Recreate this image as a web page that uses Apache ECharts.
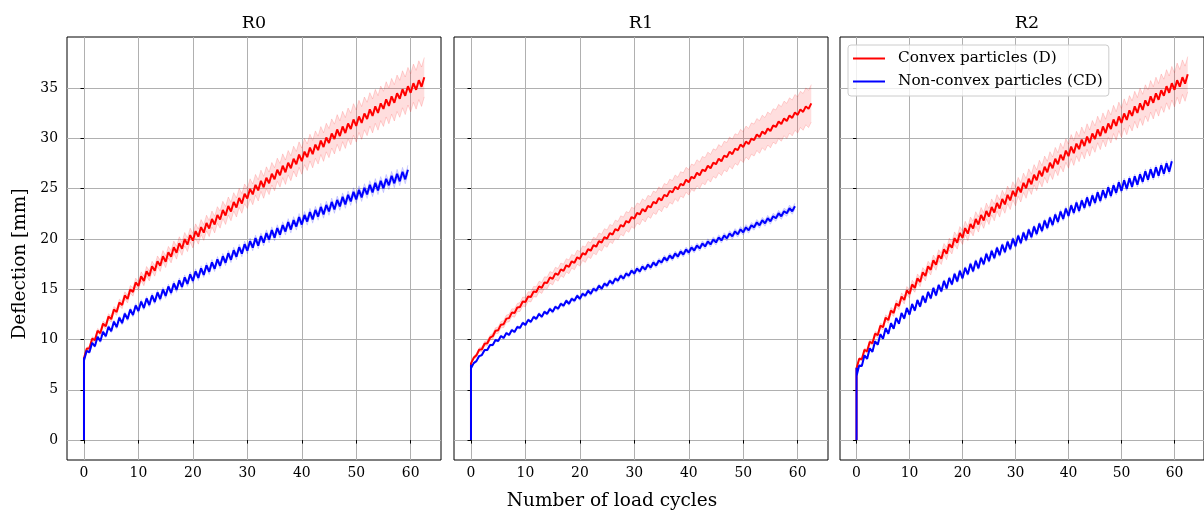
<!DOCTYPE html>
<html><head><meta charset="utf-8">
<script src="https://cdn.jsdelivr.net/npm/echarts@6/dist/echarts.min.js"></script>
<style>html,body{margin:0;padding:0;background:#fff}#c{width:1204px;height:510px}</style>
</head><body><div id="c"></div><script>
// ---------- data ----------
const panelTitles = ['R0', 'R1', 'R2'];
const seriesNames = ['Convex particles (D)', 'Non-convex particles (CD)'];
const xTicks = [0, 10, 20, 30, 40, 50, 60];
const yTicks = [0, 5, 10, 15, 20, 25, 30, 35];
const xLabel = 'Number of load cycles';
const yLabel = 'Deflection [mm]';

// mean deflection per load cycle (centre of the saw-tooth)
const r0ConvexMean = [8.6,9.6,10.4,11.1,11.8,12.5,13.2,13.9,14.5,15.2,
15.8,16.3,16.8,17.3,17.8,18.2,18.7,19.1,19.5,19.9,
20.3,20.7,21.1,21.5,21.9,22.4,22.8,23.2,23.6,24.0,
24.5,24.9,25.3,25.6,26.0,26.4,26.8,27.1,27.5,27.9,
28.2,28.6,28.9,29.3,29.6,30.0,30.4,30.7,31.0,31.4,
31.7,32.0,32.4,32.7,33.0,33.4,33.7,34.0,34.4,34.7,
35.0,35.3,35.6];
const r0NonconvexMean = [8.4,9.2,9.8,10.3,10.8,11.3,11.7,12.1,12.5,12.9,
13.3,13.6,13.9,14.2,14.5,14.8,15.1,15.4,15.7,16.0,
16.3,16.6,16.9,17.2,17.5,17.8,18.1,18.4,18.7,19.0,
19.3,19.6,19.8,20.1,20.4,20.6,20.9,21.2,21.4,21.7,
21.9,22.2,22.4,22.7,22.9,23.2,23.4,23.7,23.9,24.2,
24.4,24.6,24.9,25.1,25.3,25.5,25.8,26.0,26.2,26.4];
const r1ConvexMean = [7.9,8.7,9.3,9.9,10.6,11.2,11.8,12.4,12.9,13.5,
14.0,14.5,15.0,15.4,15.9,16.3,16.7,17.1,17.5,17.9,
18.3,18.7,19.1,19.5,19.9,20.3,20.7,21.1,21.5,21.9,
22.3,22.7,23.0,23.4,23.8,24.1,24.5,24.9,25.2,25.6,
25.9,26.3,26.6,27.0,27.3,27.7,28.0,28.4,28.7,29.1,
29.4,29.7,30.1,30.4,30.7,31.0,31.4,31.7,32.0,32.3,
32.6,32.9,33.2];
const r1NonconvexMean = [7.4,8.1,8.7,9.2,9.7,10.1,10.4,10.7,11.0,11.4,
11.7,12.0,12.3,12.5,12.8,13.0,13.3,13.6,13.8,14.1,
14.3,14.6,14.8,15.1,15.3,15.6,15.8,16.1,16.3,16.6,
16.8,17.0,17.2,17.4,17.6,17.9,18.1,18.3,18.5,18.7,
18.9,19.1,19.3,19.5,19.7,19.9,20.1,20.3,20.5,20.7,
20.9,21.1,21.4,21.6,21.8,22.0,22.3,22.5,22.8,23.0];
const r2ConvexMean = [7.6,8.5,9.3,10.1,10.9,11.7,12.4,13.1,13.8,14.4,
15.0,15.6,16.2,16.8,17.4,17.9,18.5,19.0,19.6,20.1,
20.6,21.0,21.5,21.9,22.3,22.7,23.1,23.5,23.9,24.3,
24.7,25.1,25.5,25.9,26.3,26.7,27.1,27.5,27.9,28.3,
28.7,29.0,29.4,29.7,30.0,30.4,30.7,31.0,31.4,31.7,
32.0,32.3,32.7,33.0,33.3,33.7,34.0,34.3,34.7,35.0,
35.3,35.6,35.9];
const r2NonconvexMean = [6.9,7.9,8.6,9.3,10.0,10.6,11.1,11.6,12.1,12.6,
13.0,13.4,13.8,14.2,14.6,14.9,15.3,15.6,16.0,16.3,
16.6,17.0,17.3,17.6,18.0,18.3,18.6,18.9,19.2,19.5,
19.8,20.1,20.4,20.7,21.0,21.3,21.6,21.9,22.2,22.5,
22.8,23.1,23.3,23.6,23.8,24.1,24.3,24.6,24.8,25.1,
25.3,25.5,25.7,25.9,26.2,26.4,26.6,26.8,27.0,27.2];

// standard deviation per load cycle (shaded band)
const r0ConvexSd = [0.15,0.2,0.22,0.25,0.28,0.3,0.33,0.36,0.39,0.42,
0.45,0.48,0.5,0.53,0.56,0.58,0.61,0.64,0.66,0.69,
0.72,0.75,0.78,0.8,0.83,0.86,0.89,0.92,0.95,0.98,
1.0,1.03,1.06,1.09,1.12,1.15,1.18,1.21,1.24,1.27,
1.3,1.33,1.36,1.39,1.42,1.45,1.48,1.51,1.54,1.57,
1.6,1.63,1.66,1.69,1.72,1.75,1.78,1.81,1.84,1.87,
1.9,1.93,1.96];
const r0NonconvexSd = [0.1,0.12,0.13,0.14,0.15,0.16,0.17,0.18,0.19,0.2,
0.2,0.21,0.22,0.22,0.23,0.24,0.24,0.25,0.25,0.26,
0.26,0.27,0.27,0.28,0.28,0.29,0.29,0.3,0.3,0.31,
0.31,0.32,0.32,0.33,0.33,0.34,0.34,0.35,0.35,0.36,
0.36,0.37,0.37,0.38,0.38,0.39,0.39,0.4,0.4,0.41,
0.41,0.42,0.42,0.43,0.43,0.44,0.44,0.45,0.45,0.46];
const r1ConvexSd = [0.15,0.2,0.23,0.26,0.29,0.32,0.35,0.38,0.41,0.44,
0.47,0.5,0.52,0.55,0.58,0.6,0.63,0.66,0.68,0.7,
0.73,0.76,0.78,0.81,0.84,0.86,0.89,0.92,0.94,0.97,
1.0,1.02,1.05,1.08,1.1,1.13,1.16,1.18,1.21,1.24,
1.27,1.3,1.32,1.35,1.38,1.4,1.43,1.46,1.48,1.51,
1.54,1.56,1.59,1.62,1.64,1.67,1.7,1.72,1.75,1.78,
1.8,1.83,1.86];
const r1NonconvexSd = [0.08,0.09,0.1,0.1,0.11,0.11,0.12,0.12,0.13,0.13,
0.14,0.14,0.15,0.15,0.15,0.16,0.16,0.17,0.17,0.17,
0.18,0.18,0.19,0.19,0.19,0.2,0.2,0.2,0.21,0.21,
0.22,0.22,0.22,0.23,0.23,0.23,0.24,0.24,0.24,0.25,
0.25,0.25,0.26,0.26,0.26,0.27,0.27,0.27,0.28,0.28,
0.28,0.29,0.29,0.29,0.3,0.3,0.3,0.31,0.31,0.31];
const r2ConvexSd = [0.12,0.16,0.19,0.22,0.25,0.28,0.31,0.34,0.36,0.39,
0.42,0.44,0.47,0.5,0.52,0.55,0.57,0.6,0.62,0.65,
0.68,0.7,0.73,0.75,0.78,0.8,0.83,0.86,0.88,0.91,
0.94,0.96,0.99,1.01,1.04,1.06,1.09,1.12,1.14,1.17,
1.2,1.22,1.25,1.27,1.3,1.32,1.35,1.37,1.4,1.42,
1.45,1.47,1.5,1.52,1.55,1.57,1.6,1.62,1.65,1.67,
1.7,1.72,1.75];
const r2NonconvexSd = [0.06,0.07,0.07,0.08,0.08,0.09,0.09,0.1,0.1,0.1,
0.11,0.11,0.11,0.12,0.12,0.12,0.13,0.13,0.13,0.14,
0.14,0.14,0.15,0.15,0.15,0.15,0.16,0.16,0.16,0.17,
0.17,0.17,0.17,0.18,0.18,0.18,0.18,0.19,0.19,0.19,
0.19,0.2,0.2,0.2,0.2,0.21,0.21,0.21,0.21,0.22,
0.22,0.22,0.22,0.23,0.23,0.23,0.23,0.24,0.24,0.24];

// peak-to-trough height of the load/unload saw-tooth in each cycle
const r0ConvexSwing = 0.95, r0NonconvexSwing = 0.95;
const r1ConvexSwing = 0.55, r1NonconvexSwing = 0.5;
const r2ConvexSwing = 0.95, r2NonconvexSwing = 1.05;

// initial loading at cycle 0 (values reached before the first full cycle)
const r0ConvexHead = [0, 7.2];
const r0NonconvexHead = [0, 8.2, 5.0, 8.0, 6.8];
const r1ConvexHead = [0, 6.2];
const r1NonconvexHead = [0, 7.5, 4.0, 7.2, 6.5];
const r2ConvexHead = [0, 5.9];
const r2NonconvexHead = [0, 7.0, 4.2, 7.2, 6.0];

// ---------- build ----------
const panels = [
  {conv: [r0ConvexMean, r0ConvexSwing, r0ConvexSd, r0ConvexHead], non: [r0NonconvexMean, r0NonconvexSwing, r0NonconvexSd, r0NonconvexHead]},
  {conv: [r1ConvexMean, r1ConvexSwing, r1ConvexSd, r1ConvexHead], non: [r1NonconvexMean, r1NonconvexSwing, r1NonconvexSd, r1NonconvexHead]},
  {conv: [r2ConvexMean, r2ConvexSwing, r2ConvexSd, r2ConvexHead], non: [r2NonconvexMean, r2NonconvexSwing, r2NonconvexSd, r2NonconvexHead]}
];

function zig(mean, swing, head) {
  const pts = head.map(v => [0, v]);
  mean.forEach((m, n) => { pts.push([n, m - swing / 2]); pts.push([n + 0.5, m + swing / 2]); });
  return pts;
}
// band rows: [x, lower, upper]
function band(mean, swing, sd) {
  const pts = [];
  mean.forEach((m, n) => {
    pts.push([n, m - swing / 2 - sd[n], m - swing / 2 + sd[n]]);
    pts.push([n + 0.5, m + swing / 2 - sd[n], m + swing / 2 + sd[n]]);
  });
  return pts;
}

const FONT = 'DejaVu Serif';
const RED = '#ff0000', BLUE = '#0000ff';
const lefts = [67, 454, 840];
const W = 374, TOP = 37, H = 423;

function bandSeries(i, rows, fill, edge) {
  return {
    type: 'custom', xAxisIndex: i, yAxisIndex: i, silent: true, z: 1, clip: true,
    data: rows,
    encode: {x: 0, y: [1, 2]},
    renderItem: function (params, api) {
      if (params.dataIndex !== 0) return null;
      const lo = rows.map(r => api.coord([r[0], r[1]]));
      const hi = rows.map(r => api.coord([r[0], r[2]]));
      const poly = lo.concat(hi.slice().reverse());
      return {
        type: 'group',
        children: [
          {type: 'polygon', shape: {points: poly}, style: {fill: fill, stroke: null}},
          {type: 'polyline', shape: {points: lo}, style: {fill: null, stroke: edge, lineWidth: 1}},
          {type: 'polyline', shape: {points: hi}, style: {fill: null, stroke: edge, lineWidth: 1}}
        ]
      };
    }
  };
}

const grid = [], xAxis = [], yAxis = [], series = [], graphic = [];
panels.forEach((p, i) => {
  grid.push({left: lefts[i], top: TOP, width: W, height: H, show: true, borderColor: '#000', borderWidth: 1, backgroundColor: '#fff', containLabel: false});
  xAxis.push({
    type: 'value', gridIndex: i, min: -3.12, max: 65.57,
    axisLine: {show: false},
    axisTick: {show: true, customValues: xTicks, length: 3.5, lineStyle: {color: '#000', width: 1}},
    axisLabel: {show: true, customValues: xTicks, margin: 6, fontFamily: FONT, fontSize: 13.9, color: '#000'},
    splitLine: {show: true, lineStyle: {color: '#b0b0b0', width: 1}}
  });
  yAxis.push({
    type: 'value', gridIndex: i, min: -1.98, max: 40.07,
    axisLine: {show: false},
    axisTick: {show: true, customValues: yTicks, length: 3.5, lineStyle: {color: '#000', width: 1}},
    axisLabel: {show: i === 0, customValues: yTicks, margin: 9, fontFamily: FONT, fontSize: 13.9, color: '#000'},
    splitLine: {show: true, lineStyle: {color: '#b0b0b0', width: 1}}
  });
  const groups = [[p.conv, RED, 'rgba(255,0,0,0.13)', 'rgba(255,0,0,0.15)', seriesNames[0]],
                  [p.non, BLUE, 'rgba(0,0,255,0.15)', 'rgba(0,0,255,0.12)', seriesNames[1]]];
  groups.forEach(g => {
    const [mean, swing, sd] = g[0];
    series.push(bandSeries(i, band(mean, swing, sd), g[2], g[3]));
  });
  groups.forEach((g, k) => {
    const [mean, swing, sd, head] = g[0];
    series.push({type: 'line', name: g[4], xAxisIndex: i, yAxisIndex: i, data: zig(mean, swing, head),
      showSymbol: false, symbol: 'none', z: 3 + k, color: g[1], itemStyle: {color: g[1]}, lineStyle: {color: g[1], width: 2}});
  });
  graphic.push({type: 'text', x: lefts[i] + W / 2, y: 23, style: {text: panelTitles[i], font: '17.5px "DejaVu Serif"', fill: '#000', textAlign: 'center', textVerticalAlign: 'middle'}});
});
graphic.push({type: 'text', x: 612, y: 501, style: {text: xLabel, font: '18.5px "DejaVu Serif"', fill: '#000', textAlign: 'center', textVerticalAlign: 'middle'}});
graphic.push({type: 'text', x: 20, y: 264, rotation: Math.PI / 2, style: {text: yLabel, font: '18.5px "DejaVu Serif"', fill: '#000', textAlign: 'center', textVerticalAlign: 'middle'}});

const chart = echarts.init(document.getElementById('c'), null, {renderer: 'canvas'});
chart.setOption({
  animation: false,
  backgroundColor: '#fff',
  grid, xAxis, yAxis, series, graphic,
  legend: {
    data: seriesNames, orient: 'vertical', left: 848, top: 45, padding: [5, 6, 6, 5],
    itemWidth: 32, itemHeight: 2, icon: 'rect', itemGap: 6, selectedMode: false,
    borderColor: '#cccccc', borderWidth: 1, borderRadius: 3, backgroundColor: 'rgba(255,255,255,0.8)',
    textStyle: {fontFamily: FONT, fontSize: 15.3, color: '#000', lineHeight: 17, padding: [0, 0, 0, 8]}
  }
});
</script></body></html>
